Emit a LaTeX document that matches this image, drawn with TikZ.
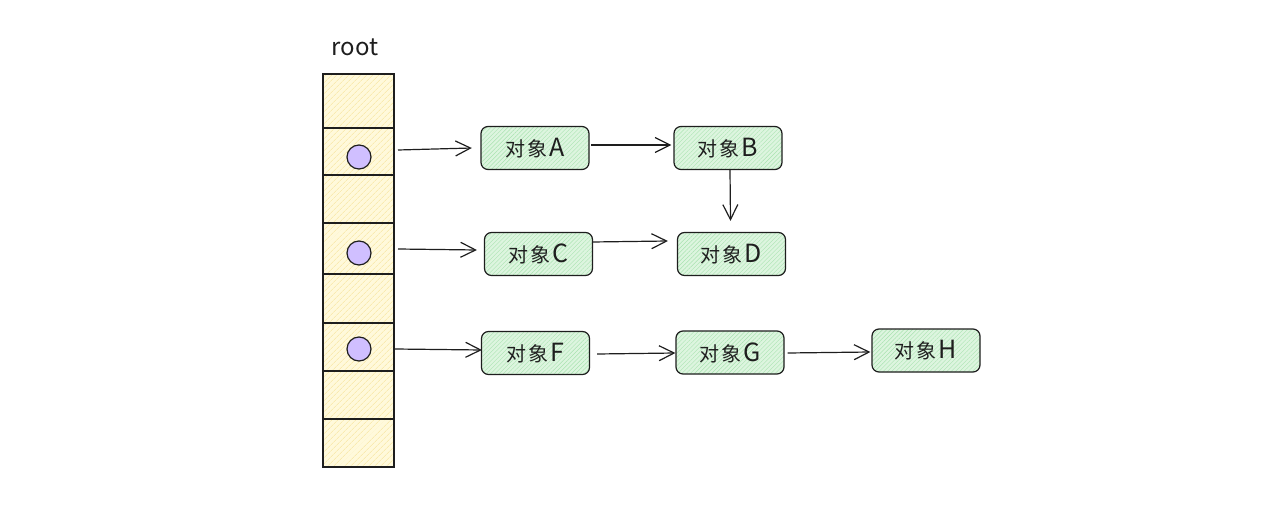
\documentclass[tikz,border=0pt]{standalone}
\usepackage{fontspec}
\setmainfont{Noto Sans CJK SC}
\usetikzlibrary{arrows.meta,patterns.meta}
\definecolor{ink}{HTML}{1E1E1E}
\definecolor{yelbg}{HTML}{FFF9DB}
\definecolor{yelln}{HTML}{F7E39A}
\definecolor{grnbg}{HTML}{DDF5DF}
\definecolor{grnln}{HTML}{A9E3B0}
\definecolor{violet}{HTML}{D0BFFF}
\newcommand{\obj}[1]{对\kern2pt 象\kern2pt{\fontsize{25}{25}\selectfont #1}}
\tikzset{
  cellbox/.style={draw=ink, line width=1.2pt, minimum width=71pt, inner sep=0pt,
    preaction={fill=yelbg},
    pattern={Lines[angle=45,distance=4pt,line width=0.5pt]}, pattern color=yelln},
  objbox/.style={draw=ink, line width=1.2pt, rounded corners=7pt, minimum width=108pt,
    minimum height=43pt, inner sep=0pt, font=\fontsize{20}{22}\selectfont, text=ink,
    preaction={fill=grnbg},
    pattern={Lines[angle=45,distance=3pt,line width=0.4pt]}, pattern color=grnln},
  dot/.style={circle, draw=ink, line width=1.2pt, fill=violet, minimum size=24pt, inner sep=0pt},
  arr/.style={draw=ink, line width=1.2pt, -{Straight Barb[length=15pt,width=15pt,line width=1.2pt]}},
}
\begin{document}
\begin{tikzpicture}[x=1pt,y=-1pt]
\useasboundingbox (0,0) rectangle (1280,508);
\node[font=\fontsize{24}{26}\selectfont, text=ink] (rootlbl) at (355,47) {root};
% cells
\node[cellbox, minimum height=54pt] (c1) at (358.5,101) {};
\node[cellbox, minimum height=47pt] (c2) at (358.5,151.5) {};
\node[cellbox, minimum height=48pt] (c3) at (358.5,199) {};
\node[cellbox, minimum height=51pt] (c4) at (358.5,248.5) {};
\node[cellbox, minimum height=49pt] (c5) at (358.5,298.5) {};
\node[cellbox, minimum height=48pt] (c6) at (358.5,347) {};
\node[cellbox, minimum height=48pt] (c7) at (358.5,395) {};
\node[cellbox, minimum height=48pt] (c8) at (358.5,443) {};
% dots
\node[dot] (p1) at (359,157) {};
\node[dot] (p2) at (359,253) {};
\node[dot] (p3) at (359,349) {};
% objects
\node[objbox] (A) at (535,148) {\obj{A}};
\node[objbox] (B) at (728,148) {\obj{B}};
\node[objbox] (C) at (538.5,254) {\obj{C}};
\node[objbox] (D) at (731.5,254) {\obj{D}};
\node[objbox] (F) at (535.5,353) {\obj{F}};
\node[objbox] (G) at (730,352.5) {\obj{G}};
\node[objbox] (H) at (926,350.5) {\obj{H}};
% arrows
\coordinate (s1) at (398,150);
\coordinate (s2) at (398,249);
\coordinate (s3) at (395,349);
\draw[arr] (s1) -- ([xshift=-9pt]A.west);
\draw[arr] (s2) -- ([xshift=-7pt,yshift=4pt]C.west);
\draw[arr] (s3) -- ([xshift=1pt,yshift=3pt]F.west);
\draw[arr] ([xshift=2pt,yshift=3pt]A.east) -- ([xshift=-2pt,yshift=3pt]B.west);
\draw[arr] ([xshift=2pt]B.south) -- ([xshift=-1pt,yshift=11pt]D.north);
\draw[arr] ([xshift=-1pt,yshift=12pt]C.east) -- ([xshift=-9pt,yshift=13pt]D.west);
\draw[arr] ([xshift=7pt,yshift=-1pt]F.east) -- ([xshift=0pt,yshift=-0.5pt]G.west);
\draw[arr] ([xshift=3pt,yshift=-0.5pt]G.east) -- ([xshift=-1pt,yshift=-1.5pt]H.west);
\end{tikzpicture}
\end{document}
